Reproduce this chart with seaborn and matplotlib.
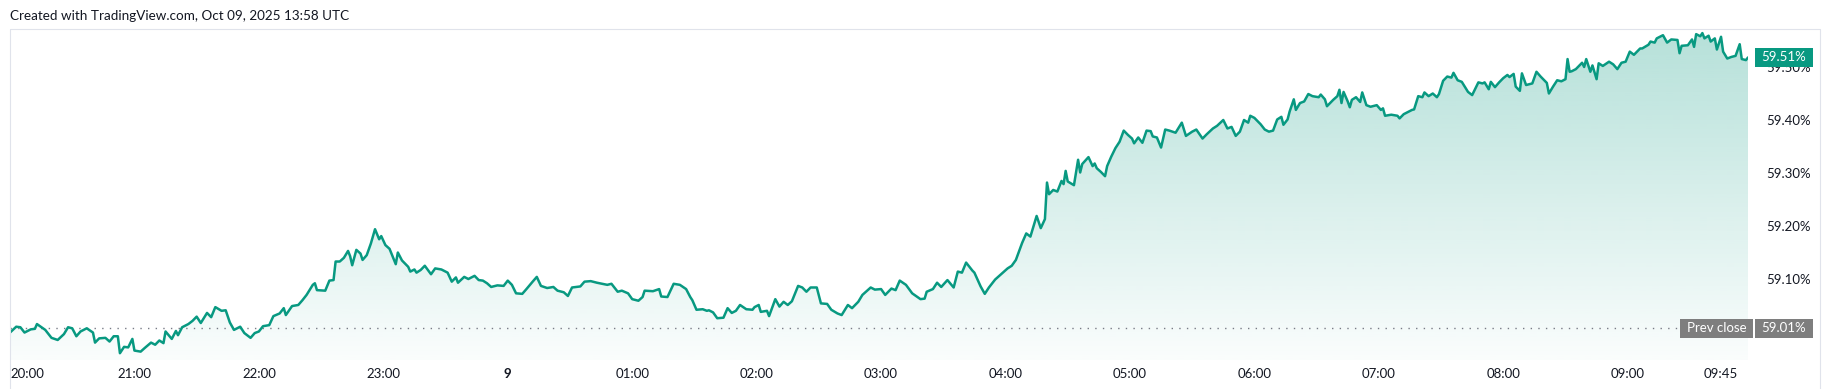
import numpy as np
import matplotlib
matplotlib.use("Agg")
import matplotlib.pyplot as plt
import seaborn as sns
from matplotlib.patches import Rectangle
from matplotlib.lines import Line2D

# ---------------- data (minutes after 20:00, yield in %) ----------------
minutes = [
    0, 3, 5, 7, 10, 12, 13, 17, 20, 23, 26, 28, 30, 32, 34, 37, 40, 41, 43, 46,
    48, 50, 52, 53, 55, 57, 59, 60, 63, 65, 68, 70, 72, 74, 75, 78, 80, 81, 83, 86,
    88, 90, 92, 95, 97, 99, 102, 104, 106, 108, 111, 113, 116, 118, 120, 122, 125, 127, 130, 132,
    133, 136, 139, 141, 143, 146, 147, 148, 152, 154, 156, 157, 159, 161, 163, 164, 165, 167, 169, 170,
    172, 174, 176, 178, 179, 181, 183, 186, 187, 189, 192, 193, 195, 196, 198, 200, 203, 205, 208, 211,
    213, 215, 216, 219, 221, 224, 226, 228, 230, 232, 235, 238, 240, 242, 244, 247, 249, 252, 254, 256,
    259, 262, 264, 267, 269, 271, 275, 277, 280, 283,
    288, 290, 293, 295, 298, 300, 303, 305, 306, 310, 313, 314, 317, 320, 323, 326, 328, 329, 331, 334,
    336, 337, 339, 341, 344, 346, 348, 350, 352, 355, 358, 359, 361, 362, 365, 366, 369, 371, 373, 375,
    377, 380, 382, 384, 386, 389, 391, 394, 396, 399, 401, 404, 406, 409, 411, 415, 417, 420, 422, 425,
    427, 429, 432, 435, 439, 441, 442, 445, 447, 449, 452, 455, 457, 459, 461, 464, 465, 468, 470, 472,
    475, 477, 481, 483, 485, 488, 490, 492, 495, 497, 499, 500, 501, 503, 505, 507, 508, 509, 510, 513,
    515, 516, 517, 520, 522, 523, 524, 526, 528, 529, 531, 533, 535, 537, 539, 541, 542, 544, 546, 548,
    550, 551, 553, 555, 557, 559, 562, 565, 567, 570, 572, 575, 577, 580, 582, 585, 587, 589, 591, 593,
    595, 597, 598, 600, 603, 605, 607, 609, 611, 613, 614, 616, 617, 619, 620, 622, 624, 626, 628, 631,
    632, 634, 635, 638, 640, 641, 642, 643, 645, 646, 647, 649, 651, 652, 654, 656, 659, 661, 662, 663,
    666, 669, 670, 672, 674, 676, 677, 679, 681, 682, 684, 686, 688, 689, 691, 693, 695, 696, 698, 700,
    703, 705, 708, 710, 711, 713, 714, 716, 718, 720, 722, 723, 725, 726, 728, 729, 731, 734, 736, 738,
    741, 742, 744, 746, 748, 750, 751, 752, 753, 755, 758, 759, 760, 762, 763, 765, 766,
    768, 771, 773, 775, 777, 779, 781, 783, 786, 787, 790, 791, 793, 794, 797, 799, 801, 804, 805, 806,
    809, 811, 812, 813, 815, 816, 817, 819, 820, 822, 823, 825, 826, 828, 830, 832, 834, 835, 837, 838,
]
values = [
    58.999, 59.010, 59.009, 58.999, 59.005, 59.006, 59.015, 59.004, 58.989, 58.985, 58.996, 59.009, 59.007, 58.992, 59.001, 59.007, 58.999, 58.980, 58.988, 58.989,
    58.982, 58.992, 58.992, 58.960, 58.972, 58.971, 58.987, 58.965, 58.963, 58.970, 58.980, 58.976, 58.984, 58.979, 59.001, 58.987, 59.002, 58.994, 59.009, 59.015,
    59.021, 59.029, 59.017, 59.036, 59.028, 59.047, 59.040, 59.041, 59.018, 59.004, 59.010, 58.998, 58.989, 58.998, 59.001, 59.011, 59.013, 59.030, 59.035, 59.045,
    59.032, 59.049, 59.051, 59.060, 59.070, 59.089, 59.092, 59.079, 59.078, 59.097, 59.098, 59.133, 59.133, 59.140, 59.153, 59.143, 59.126, 59.155, 59.148, 59.136,
    59.145, 59.167, 59.194, 59.175, 59.181, 59.164, 59.157, 59.128, 59.150, 59.135, 59.123, 59.114, 59.118, 59.112, 59.117, 59.125, 59.109, 59.120, 59.118, 59.112,
    59.095, 59.103, 59.093, 59.104, 59.100, 59.106, 59.098, 59.097, 59.092, 59.085, 59.088, 59.087, 59.097, 59.089, 59.073, 59.072, 59.081, 59.095, 59.104, 59.087,
    59.083, 59.085, 59.078, 59.075, 59.068, 59.084, 59.086, 59.095, 59.096, 59.093,
    59.089, 59.091, 59.076, 59.078, 59.073, 59.062, 59.059, 59.066, 59.078, 59.077, 59.081, 59.067, 59.066, 59.091, 59.089, 59.081, 59.066, 59.060, 59.042, 59.043,
    59.040, 59.041, 59.037, 59.026, 59.027, 59.045, 59.036, 59.040, 59.051, 59.043, 59.042, 59.047, 59.051, 59.038, 59.040, 59.030, 59.062, 59.048, 59.057, 59.051,
    59.058, 59.087, 59.084, 59.076, 59.084, 59.084, 59.054, 59.053, 59.042, 59.035, 59.032, 59.051, 59.045, 59.057, 59.070, 59.084, 59.080, 59.081, 59.070, 59.082,
    59.079, 59.097, 59.089, 59.073, 59.062, 59.063, 59.076, 59.081, 59.093, 59.085, 59.098, 59.084, 59.114, 59.112, 59.131, 59.116, 59.112, 59.086, 59.072, 59.084,
    59.099, 59.106, 59.120, 59.125, 59.136, 59.168, 59.186, 59.180, 59.219, 59.196, 59.213, 59.282, 59.260, 59.268, 59.265, 59.285, 59.279, 59.304, 59.284, 59.277,
    59.325, 59.301, 59.317, 59.330, 59.313, 59.318, 59.309, 59.302, 59.294, 59.313, 59.331, 59.347, 59.359, 59.380, 59.372, 59.365, 59.356, 59.367, 59.357, 59.380,
    59.379, 59.369, 59.367, 59.348, 59.382, 59.380, 59.376, 59.395, 59.370, 59.378, 59.382, 59.365, 59.373, 59.384, 59.389, 59.400, 59.384, 59.387, 59.370, 59.378,
    59.400, 59.395, 59.408, 59.404, 59.392, 59.382, 59.378, 59.380, 59.401, 59.406, 59.391, 59.401, 59.416, 59.439, 59.419, 59.432, 59.435, 59.449, 59.445, 59.443,
    59.448, 59.439, 59.426, 59.438, 59.445, 59.457, 59.432, 59.453, 59.435, 59.424, 59.438, 59.443, 59.434, 59.452, 59.428, 59.425, 59.428, 59.419, 59.422, 59.408,
    59.410, 59.408, 59.403, 59.411, 59.415, 59.419, 59.420, 59.445, 59.443, 59.452, 59.445, 59.450, 59.443, 59.449, 59.474, 59.482, 59.480, 59.489, 59.475, 59.472,
    59.453, 59.447, 59.471, 59.469, 59.471, 59.458, 59.472, 59.462, 59.471, 59.479, 59.485, 59.481, 59.487, 59.463, 59.455, 59.488, 59.466, 59.469, 59.491, 59.482,
    59.470, 59.450, 59.463, 59.475, 59.473, 59.477, 59.515, 59.491, 59.492, 59.496, 59.508, 59.500, 59.515, 59.491, 59.503, 59.477, 59.507,
    59.502, 59.510, 59.505, 59.496, 59.508, 59.510, 59.529, 59.523, 59.535, 59.535, 59.542, 59.548, 59.546, 59.554, 59.560, 59.546, 59.552, 59.551, 59.526, 59.540,
    59.541, 59.552, 59.538, 59.562, 59.558, 59.564, 59.554, 59.559, 59.548, 59.554, 59.533, 59.557, 59.529, 59.516, 59.519, 59.521, 59.543, 59.515, 59.513, 59.518,
]

prev_close = 59.0075
prev_close_text = "59.01%"
last_text = "59.51%"
y_ticks = [59.10, 59.20, 59.30, 59.40, 59.50]
y_tick_labels = ["59.10%", "59.20%", "59.30%", "59.40%", "59.50%"]
x_tick_minutes = [0, 60, 120, 180, 240, 300, 360, 420, 480, 540, 600, 660, 720, 780, 825]
x_tick_labels = ["20:00", "21:00", "22:00", "23:00", "9", "01:00", "02:00", "03:00",
                 "04:00", "05:00", "06:00", "07:00", "08:00", "09:00", "09:45"]
header = "Created with TradingView.com, Oct 09, 2025 13:58 UTC"

# ---------------- style ----------------
sns.set_style("white")
plt.rcParams['font.family'] = ['Lato', 'DejaVu Sans']
TEAL = "#089981"
TXT = "#131722"
GRID = "#e0e3eb"

W, H = 1831, 389
fig = plt.figure(figsize=(W / 100, H / 100), dpi=100)
fig.patch.set_facecolor("white")

def fx(px):
    return px / W

def fy(py):
    return 1 - py / H

L, R, T, B = 10, 1748, 29, 360
ax = fig.add_axes([fx(L), fy(B), fx(R) - fx(L), fy(T) - fy(B)])
ax.set_facecolor("white")
xlim = (0, 838)
ylim = (58.9472, 59.5717)

# gradient area fill
rgb = np.array(matplotlib.colors.to_rgb(TEAL))
grad = np.zeros((256, 1, 4))
grad[..., :3] = rgb
grad[..., 3] = np.linspace(0.02, 0.30, 256)[:, None]
im = ax.imshow(grad, extent=[xlim[0], xlim[1], ylim[0], ylim[1]], origin="lower",
               aspect="auto", zorder=1, interpolation="bilinear")
poly = ax.fill_between(minutes, values, ylim[0], color="none", lw=0)
im.set_clip_path(poly.get_paths()[0], transform=ax.transData)

sns.lineplot(x=minutes, y=values, color=TEAL, linewidth=1.8, ax=ax, zorder=3)

# previous close dotted line
ax.plot([0, (1680 - L) / (R - L)], [prev_close, prev_close], transform=ax.get_yaxis_transform(),
        color="#787b86", lw=1.0, linestyle=(0, (1, 4.5)), zorder=2, clip_on=False)

ax.set_xlim(*xlim)
ax.set_ylim(*ylim)
for s in ax.spines.values():
    s.set_visible(False)

ax.set_xticks(x_tick_minutes)
ax.set_xticklabels(x_tick_labels)
ax.tick_params(axis="x", length=0, pad=5.5, labelsize=9.5, labelcolor=TXT)
ax.get_xticklabels()[0].set_ha("left")
ax.get_xticklabels()[4].set_fontweight("bold")

ax.yaxis.tick_right()
ax.set_yticks(y_ticks)
ax.set_yticklabels(y_tick_labels)
ax.tick_params(axis="y", length=0, pad=13, labelsize=9.5, labelcolor=TXT)
ax.set_xlabel("")
ax.set_ylabel("")
ax.grid(False)

# pane borders
fig.add_artist(Line2D([fx(10), fx(10)], [fy(29), 0], transform=fig.transFigure, color=GRID, lw=0.8))
fig.add_artist(Line2D([fx(10), fx(1820)], [fy(29), fy(29)], transform=fig.transFigure, color=GRID, lw=0.8))
fig.add_artist(Line2D([fx(1820), fx(1820)], [fy(29), 0], transform=fig.transFigure, color=GRID, lw=0.8))

# header
fig.text(fx(10), fy(16), header, ha="left", va="center", fontsize=9.7, color=TXT)

# badges (positioned from the data scale)
fig.canvas.draw()

def badge(x0, x1, yval, text, color, size=9.5):
    ypix = ax.transData.transform((0, yval))[1]
    h = 19
    y0f = (ypix - h / 2) / H
    r = Rectangle((fx(x0), y0f), fx(x1) - fx(x0), h / H, transform=fig.transFigure,
                  facecolor=color, edgecolor="none", zorder=10)
    fig.add_artist(r)
    fig.text((fx(x0) + fx(x1)) / 2, ypix / H, text, ha="center", va="center",
             color="white", fontsize=size, zorder=11)

badge(1755, 1813, values[-1], last_text, TEAL)
badge(1680, 1753, prev_close, "Prev close", "#7e7e7e")
badge(1755, 1813, prev_close, prev_close_text, "#7e7e7e")

fig.savefig("out.png", dpi=100, facecolor="white")
